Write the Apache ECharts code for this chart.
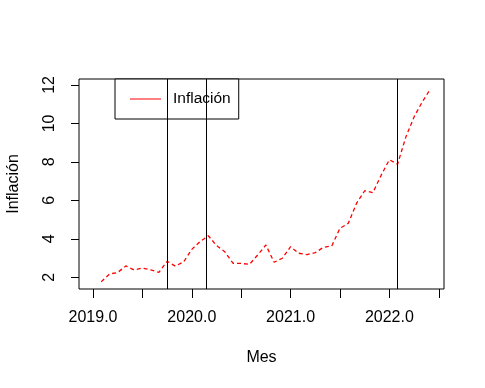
<!DOCTYPE html>
<html>
<head>
<meta charset="utf-8">
<script src="https://cdn.jsdelivr.net/npm/echarts@6/dist/echarts.min.js"></script>
<style>
html,body{margin:0;padding:0;background:#fff;}
#c{width:485px;height:388px;}
</style>
</head>
<body>
<div id="c"></div>
<script>
// Month positions (decimal years), Feb 2019 .. Jun 2022
const meses = [2019.083,2019.167,2019.250,2019.333,2019.417,2019.500,2019.583,2019.667,2019.750,2019.833,2019.917,
  2020.000,2020.083,2020.167,2020.250,2020.333,2020.417,2020.500,2020.583,2020.667,2020.750,2020.833,2020.917,
  2021.000,2021.083,2021.167,2021.250,2021.333,2021.417,2021.500,2021.583,2021.667,2021.750,2021.833,2021.917,
  2022.000,2022.083,2022.167,2022.250,2022.333,2022.417];
const inflacion = [1.77,2.17,2.25,2.59,2.38,2.48,2.38,2.26,2.83,2.58,2.80,
  3.45,3.85,4.16,3.65,3.33,2.73,2.72,2.67,3.16,3.68,2.78,2.99,
  3.59,3.25,3.18,3.28,3.56,3.63,4.55,4.80,5.84,6.50,6.40,7.31,
  8.11,7.88,9.30,10.34,11.12,11.80];
const cortes = [2019.75, 2020.155, 2022.083];
const xTicks = [2019.0,2019.5,2020.0,2020.5,2021.0,2021.5,2022.0,2022.5];
const xLabels = [2019.0,2020.0,2021.0,2022.0];
const yTicks = [2,4,6,8,10,12];

const FONT = 'Liberation Sans, Arial, sans-serif';
const chart = echarts.init(document.getElementById('c'), null, {renderer:'canvas'});
chart.setOption({
  animation: false,
  backgroundColor: '#fff',
  grid: {left:79, top:79, width:365, height:210, show:true, borderColor:'#000', borderWidth:1,
    backgroundColor:'transparent', containLabel:false, outerBoundsMode:'none'},
  legend: {
    left: 115, top: 79,
    data: [{name:'Inflación', icon:'rect'}],
    itemWidth: 31, itemHeight: 1,
    padding: [12, 8, 12, 15],
    backgroundColor: '#fff', borderColor: '#000', borderWidth: 1, borderRadius: 0,
    itemStyle: {color:'#ff0000', borderWidth:0},
    textStyle: {fontFamily: FONT, fontSize: 15.5, color:'#000', padding:[0,0,0,7]},
    selectedMode: false
  },
  xAxis: {
    type:'value', min:2018.858, max:2022.553,
    name:'Mes', nameLocation:'middle', nameGap:61,
    nameTextStyle:{fontFamily:FONT, fontSize:16, color:'#000'},
    axisLine:{show:false},
    splitLine:{show:false},
    axisTick:{show:true, customValues:xTicks, length:9, inside:false, lineStyle:{color:'#000', width:1}},
    axisLabel:{show:true, customValues:xLabels, margin:21, fontFamily:FONT, fontSize:16, color:'#000',
      formatter: v => Number(v).toFixed(1)}
  },
  yAxis: {
    type:'value', min:1.39, max:12.31,
    name:'Inflación', nameLocation:'middle', nameGap:57, nameRotate:90,
    nameTextStyle:{fontFamily:FONT, fontSize:16, color:'#000'},
    axisLine:{show:false},
    splitLine:{show:false},
    axisTick:{show:true, customValues:yTicks, length:8, inside:false, lineStyle:{color:'#000', width:1}},
    axisLabel:{show:true, customValues:yTicks, rotate:90, margin:21, fontFamily:FONT, fontSize:16, color:'#000'}
  },
  series: [{
    name:'Inflación', type:'line',
    data: meses.map((m,i)=>[m, inflacion[i]]),
    showSymbol:false, symbol:'none',
    lineStyle:{color:'#ff0000', width:1.3, type:[4,3]},
    itemStyle:{color:'#ff0000'},
    markLine:{
      silent:true, symbol:'none', label:{show:false},
      lineStyle:{color:'#000', width:1, type:'solid'},
      data: cortes.map(c=>({xAxis:c}))
    }
  }]
});
</script>
</body>
</html>
